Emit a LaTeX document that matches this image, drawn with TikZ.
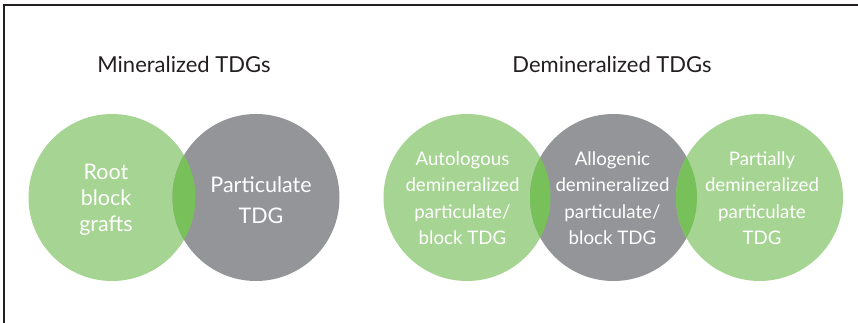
\documentclass[tikz,border=0pt]{standalone}
\usepackage{fontspec}
\setmainfont{Lato}
\definecolor{lgreen}{HTML}{A6D492}
\definecolor{dgray}{HTML}{939598}
\definecolor{lensgreen}{HTML}{78C15A}
\definecolor{ink}{HTML}{231F20}
\tikzset{
  disc/.style={circle, inner sep=0pt, minimum size=167pt, draw=none},
  bigtxt/.style={text=white, align=center, inner sep=0pt, font=\fontsize{21.5}{26}\selectfont},
  smalltxt/.style={text=white, align=center, inner sep=0pt, font=\fontsize{18.7}{26.5}\selectfont},
  title/.style={text=ink, anchor=base, inner sep=0pt, font=\fontsize{22}{26}\selectfont},
  frameline/.style={draw=ink, line width=2pt}
}
\begin{document}
\begin{tikzpicture}[x=1pt,y=-1pt]
\useasboundingbox (0,0) rectangle (858,323);
\fill[white] (0,0) rectangle (858,323);
\draw[frameline] (4,323) -- (4,5) -- (858,5);
% titles
\node[title] (h1) at (184,73) {Mineralized TDGs};
\node[title] (h2) at (612,72.5) {Demineralized TDGs};
% left group
\node[disc, fill=lgreen] (c1) at (112,197.5) {};
\node[disc, fill=dgray] (c2) at (256,197.5) {};
\begin{scope}
  \clip (c1.center) circle (83.5pt);
  \fill[lensgreen] (c2.center) circle (83.5pt);
\end{scope}
% right group
\node[disc, fill=lgreen] (c3) at (467,197.5) {};
\node[disc, fill=dgray] (c4) at (613.5,197.5) {};
\node[disc, fill=lgreen] (c5) at (759.5,197.5) {};
\begin{scope}
  \clip (c3.center) circle (83.5pt);
  \fill[lensgreen] (c4.center) circle (83.5pt);
\end{scope}
\begin{scope}
  \clip (c5.center) circle (83.5pt);
  \fill[lensgreen] (c4.center) circle (83.5pt);
\end{scope}
% texts
\node[bigtxt] (t1) at (106,199.5) {Root\\block\\grafts};
\node[bigtxt, font=\fontsize{21.5}{31.5}\selectfont] (t2) at (261,200) {Particulate\\TDG};
\node[smalltxt] (t3) at (462.5,198) {Autologous\\demineralized\\particulate/\\block TDG};
\node[smalltxt] (t4) at (612.5,198) {Allogenic\\demineralized\\particulate/\\block TDG};
\node[smalltxt] (t5) at (762,198) {Partially\\demineralized\\particulate\\TDG};
\end{tikzpicture}
\end{document}
